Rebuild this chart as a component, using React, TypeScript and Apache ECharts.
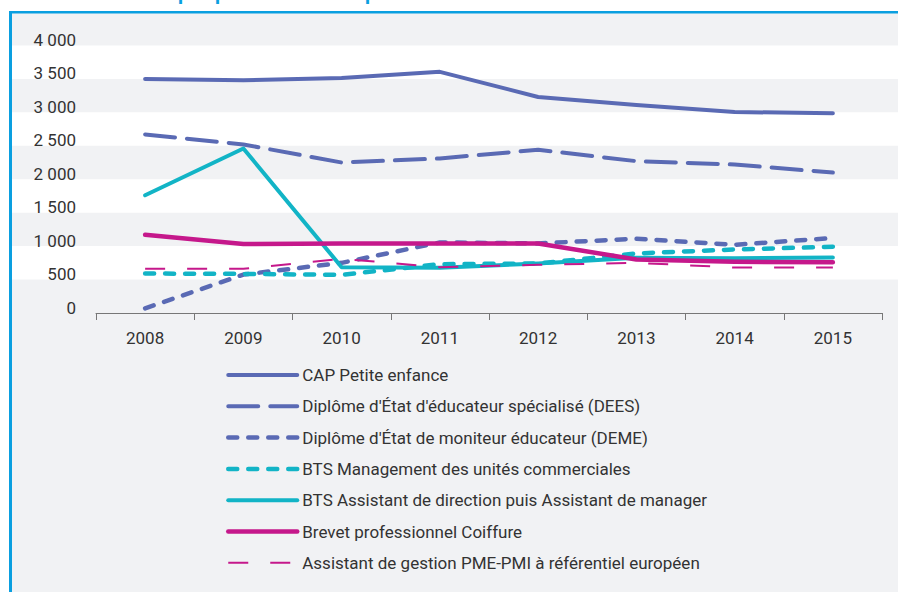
import React, { useEffect, useRef } from "react";
import * as echarts from "echarts";

const years = ["2008", "2009", "2010", "2011", "2012", "2013", "2014", "2015"];

const capPetiteEnfance = [3500, 3480, 3515, 3605, 3230, 3110, 3005, 2985];
const dees = [2670, 2520, 2250, 2310, 2440, 2270, 2220, 2100];
const deme = [70, 575, 750, 1055, 1040, 1110, 1020, 1120];
const btsMuc = [590, 585, 570, 730, 740, 890, 950, 990];
const btsAssistant = [1760, 2460, 685, 675, 740, 825, 820, 830];
const brevetCoiffure = [1170, 1030, 1040, 1040, 1040, 800, 765, 760];
const pmePmi = [660, 660, 810, 685, 720, 750, 680, 680];

const seriesNames = [
  "CAP Petite enfance",
  "Diplôme d'État d'éducateur spécialisé (DEES)",
  "Diplôme d'État de moniteur éducateur (DEME)",
  "BTS Management des unités commerciales",
  "BTS Assistant de direction puis Assistant de manager",
  "Brevet professionnel Coiffure",
  "Assistant de gestion PME-PMI à référentiel européen",
];

const yTicks = [0, 500, 1000, 1500, 2000, 2500, 3000, 3500, 4000];

const FONT = "'Liberation Sans Narrow', 'Roboto', 'Liberation Sans', sans-serif";
const PURPLE = "#5a6ab4";
const CYAN = "#12b4c6";
const MAGENTA = "#c5188b";
const BLUE = "#0a9fe0";

function fmt(v: number) {
  if (!yTicks.includes(v)) return "";
  const s = String(v);
  if (s.length > 3) return s.slice(0, s.length - 3) + " " + s.slice(s.length - 3);
  return s;
}

export default function App() {
  const ref = useRef<HTMLDivElement>(null);
  useEffect(() => {
    if (!ref.current) return;
    const chart = echarts.init(ref.current, undefined, { renderer: "svg" });
    const mk = (
      name: string,
      data: number[],
      color: string,
      width: number,
      type: any,
      cap: string
    ) => ({
      name,
      type: "line",
      data,
      symbol: "none",
      xAxisIndex: 0,
      yAxisIndex: 0,
      itemStyle: { color },
      lineStyle: { color, width, type, cap, join: "round" },
    });
    chart.setOption({
      animation: false,
      backgroundColor: "#f1f2f4",
      textStyle: { fontFamily: FONT },
      grid: [
        { left: 96, right: 16, top: 12, bottom: 279 },
        { left: 12, right: 0, top: 12, bottom: 279 },
      ],
      xAxis: [
        {
          type: "category",
          gridIndex: 0,
          data: years,
          boundaryGap: true,
          axisLine: { show: true, lineStyle: { color: "#777", width: 1 } },
          axisTick: { show: true, length: 7, lineStyle: { color: "#777" } },
          axisLabel: { color: "#333", fontSize: 17, margin: 16, fontFamily: FONT },
          splitLine: { show: false },
        },
        {
          type: "category",
          gridIndex: 1,
          data: years,
          show: false,
        },
      ],
      yAxis: [
        {
          type: "value",
          gridIndex: 0,
          min: 0,
          max: 4500,
          interval: 500,
          axisLine: { show: false },
          axisTick: { show: false },
          splitLine: { show: false },
          axisLabel: {
            color: "#333",
            fontSize: 17,
            margin: 20,
            verticalAlign: "bottom",
            lineHeight: 11,
            showMaxLabel: false,
            fontFamily: FONT,
            formatter: (v: number) => fmt(v),
          },
        },
        {
          type: "value",
          gridIndex: 1,
          min: 0,
          max: 4500,
          interval: 500,
          axisLine: { show: false },
          axisTick: { show: false },
          axisLabel: { show: false },
          splitLine: { show: false },
          splitArea: {
            show: true,
            areaStyle: { color: ["rgba(0,0,0,0)", "#ffffff"] },
          },
        },
      ],
      legend: {
        orient: "vertical",
        left: 226,
        top: 365,
        padding: 0,
        itemWidth: 69,
        itemHeight: 14,
        itemGap: 11.3,
        data: seriesNames,
        itemStyle: { color: "rgba(0,0,0,0)", borderColor: "rgba(0,0,0,0)", borderWidth: 0, opacity: 0 },
        lineStyle: { width: "inherit", type: "inherit", cap: "inherit" } as any,
        textStyle: { color: "#333", fontSize: 17, lineHeight: 20, fontFamily: FONT },
      },
      graphic: [
        { type: "rect", z: 50, shape: { x: 0, y: 0, width: 898, height: 11 }, style: { fill: "#ffffff" } },
        { type: "rect", z: 50, shape: { x: 0, y: 0, width: 9, height: 592 }, style: { fill: "#ffffff" } },
        { type: "rect", z: 60, shape: { x: 9, y: 11, width: 889, height: 2.5 }, style: { fill: BLUE } },
        { type: "rect", z: 60, shape: { x: 9, y: 11, width: 3, height: 581 }, style: { fill: BLUE } },
        { type: "text", z: 55, x: 178, y: 3, style: { text: "p", fill: BLUE, fontSize: 20, fontWeight: "bold", fontFamily: FONT, verticalAlign: "bottom" } },
        { type: "text", z: 55, x: 215, y: 3, style: { text: "p", fill: BLUE, fontSize: 20, fontWeight: "bold", fontFamily: FONT, verticalAlign: "bottom" } },
        { type: "text", z: 55, x: 365, y: 3, style: { text: "p", fill: BLUE, fontSize: 20, fontWeight: "bold", fontFamily: FONT, verticalAlign: "bottom" } },
      ],
      series: [
        mk(seriesNames[0], capPetiteEnfance, PURPLE, 4, "solid", "round"),
        mk(seriesNames[1], dees, PURPLE, 4, [30, 12], "round"),
        mk(seriesNames[2], deme, PURPLE, 4.5, [9, 11], "round"),
        mk(seriesNames[3], btsMuc, CYAN, 4.5, [9, 11], "round"),
        mk(seriesNames[4], btsAssistant, CYAN, 4, "solid", "round"),
        mk(seriesNames[5], brevetCoiffure, MAGENTA, 4.5, "solid", "round"),
        mk(seriesNames[6], pmePmi, MAGENTA, 2, [20, 22], "butt"),
      ],
    });
    return () => chart.dispose();
  }, []);
  return (
    <div
      ref={ref}
      style={{ position: "fixed", left: 0, top: 0, width: 898, height: 592 }}
    />
  );
}
